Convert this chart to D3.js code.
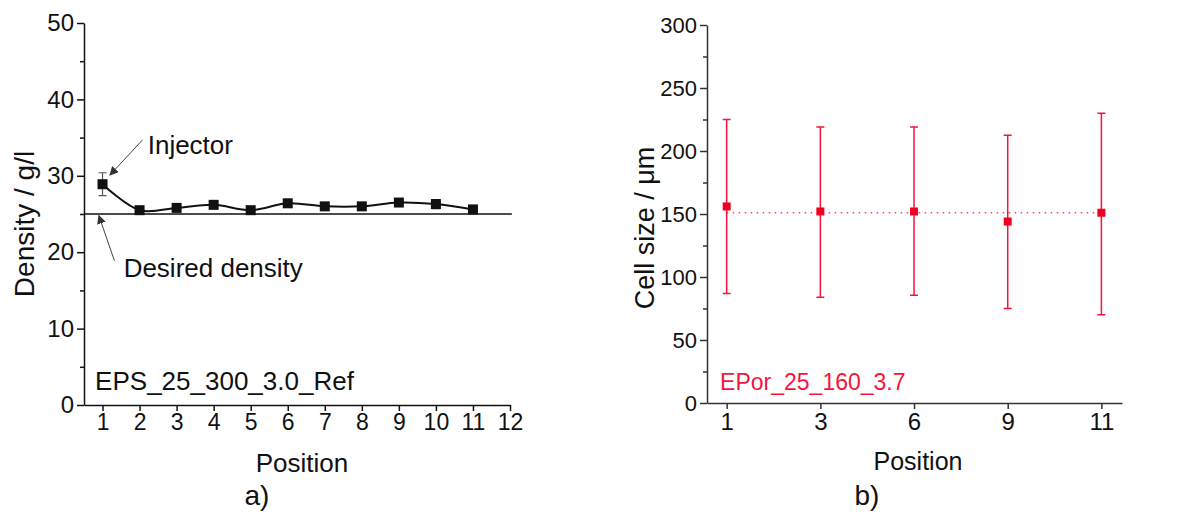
<!DOCTYPE html>
<html>
    <head>
        <title>Density and cell size</title>
        <script src="https://d3js.org/d3.v7.min.js"></script>
    </head>
    <body style="margin:0;background:#fff;">

        <style type="text/css">
            text {
                font-family: "Liberation Sans", Arial, sans-serif;
            }
            .axisL path, .axisL line {
                stroke: #111;
                stroke-width: 1.5;
            }
            .axisR path, .axisR line {
                stroke: #333;
                stroke-width: 1.5;
            }
            .tick text {
                fill: #111;
            }
        </style>

        <script>
            // panel a) - density along positions
            var densPositions = [1, 2, 3, 4, 5, 6, 7, 8, 9, 10, 11];
            var densValues = [28.9, 25.5, 25.8, 26.2, 25.5, 26.4, 26.0, 26.0, 26.5, 26.3, 25.6];
            var densErrors = [1.5, 0.3, 0.4, 0.5, 0.3, 0.4, 0.4, 0.4, 0.5, 0.6, 0.5];
            var densTicksX = [1, 2, 3, 4, 5, 6, 7, 8, 9, 10, 11, 12];
            var densTicksY = [0, 10, 20, 30, 40, 50];
            var desiredDensity = 25;

            // panel b) - cell size at selected positions
            var cellPositions = ["1", "3", "6", "9", "11"];
            var cellValues = [156, 152, 152, 144, 151];
            var cellLow = [87, 84, 85.5, 75, 70];
            var cellHigh = [225, 219, 219, 212.5, 230];
            var cellTicksY = [0, 50, 100, 150, 200, 250, 300];

            var svgWidth = 1188, svgHeight = 515;
            var red = "#f5153c";

            var svg = d3.select("body").append("svg")
                            .attr("width", svgWidth)
                            .attr("height", svgHeight);

            // ---------- panel a ----------
            var xL = d3.scaleLinear().domain([0.5, 12]).range([84, 510]);
            var yL = d3.scaleLinear().domain([0, 50]).range([405, 23]);

            var gL = svg.append("g");

            // minor ticks y
            gL.append("g")
                .attr("class", "axisL")
                .attr("transform", "translate(84,0)")
                .call(d3.axisLeft(yL).tickValues([5, 15, 25, 35, 45]).tickSize(4).tickFormat(""))
                .select(".domain").remove();

            gL.append("g")
                .attr("class", "axisL")
                .attr("transform", "translate(84,0)")
                .call(d3.axisLeft(yL).tickValues(densTicksY).tickSize(7).tickSizeOuter(0).tickPadding(3))
                .selectAll("text").style("font-size", "24px");

            gL.append("g")
                .attr("class", "axisL")
                .attr("transform", "translate(0,405)")
                .call(d3.axisBottom(xL).tickValues(densTicksX).tickSize(6).tickSizeOuter(0).tickPadding(3))
                .selectAll("text").style("font-size", "23px");

            // desired density line
            gL.append("line")
                .attr("x1", xL(0.5)).attr("x2", xL(12.05))
                .attr("y1", yL(desiredDensity)).attr("y2", yL(desiredDensity))
                .attr("stroke", "#111").attr("stroke-width", 1.5);

            var line = d3.line()
                            .x( (d, i) => xL(densPositions[i]) )
                            .y( d => yL(d) )
                            .curve(d3.curveCatmullRom.alpha(0.5));

            gL.append("path")
                .datum(densValues)
                .attr("fill", "none")
                .attr("stroke", "#111")
                .attr("stroke-width", 2)
                .attr("d", line);

            gL.selectAll(".errL")
                .data(densValues).enter().append("path")
                .attr("class", "errL")
                .attr("fill", "none")
                .attr("stroke", "#555")
                .attr("stroke-width", 1.2)
                .attr("d", function (d, i) {
                    var x = xL(densPositions[i]), t = yL(d + densErrors[i]), b = yL(d - densErrors[i]);
                    return "M" + (x - 4) + "," + t + "H" + (x + 4) + "M" + x + "," + t + "V" + b +
                           "M" + (x - 4) + "," + b + "H" + (x + 4);
                });

            gL.selectAll(".dotL")
                .data(densValues).enter().append("rect")
                .attr("class", "dotL")
                .attr("x", (d, i) => xL(densPositions[i]) - 5)
                .attr("y", d => yL(d) - 5)
                .attr("width", 10).attr("height", 10)
                .attr("fill", "#111");

            // arrows
            svg.append("defs").append("marker")
                .attr("id", "arrow")
                .attr("viewBox", "0 0 10 10")
                .attr("refX", 9).attr("refY", 5)
                .attr("markerWidth", 9).attr("markerHeight", 9)
                .attr("markerUnits", "userSpaceOnUse")
                .attr("orient", "auto")
                .append("path").attr("d", "M0,0L10,5L0,10z").attr("fill", "#333");

            gL.append("line")
                .attr("x1", xL(2.08)).attr("y1", yL(34.7))
                .attr("x2", xL(1.2)).attr("y2", yL(30.1))
                .attr("stroke", "#444").attr("stroke-width", 1)
                .attr("marker-end", "url(#arrow)");

            gL.append("line")
                .attr("x1", xL(1.32)).attr("y1", yL(18.9))
                .attr("x2", xL(0.9)).attr("y2", yL(24.8))
                .attr("stroke", "#444").attr("stroke-width", 1)
                .attr("marker-end", "url(#arrow)");

            gL.append("text")
                .attr("x", xL(2.22)).attr("y", yL(32.85))
                .style("font-size", "26px").attr("fill", "#111")
                .text("Injector");

            gL.append("text")
                .attr("x", xL(1.57)).attr("y", yL(16.8))
                .style("font-size", "26px").attr("fill", "#111")
                .text("Desired density");

            gL.append("text")
                .attr("x", xL(0.8)).attr("y", yL(2))
                .style("font-size", "26px").attr("fill", "#111")
                .text("EPS_25_300_3.0_Ref");

            gL.append("text")
                .attr("x", 302).attr("y", 472)
                .attr("text-anchor", "middle")
                .style("font-size", "26px").attr("fill", "#111")
                .text("Position");

            gL.append("text")
                .attr("transform", "translate(34,224) rotate(-90)")
                .attr("text-anchor", "middle")
                .style("font-size", "28px").attr("fill", "#111")
                .text("Density / g/l");

            gL.append("text")
                .attr("x", 257).attr("y", 505)
                .attr("text-anchor", "middle")
                .style("font-size", "28px").attr("fill", "#111")
                .text("a)");

            // ---------- panel b ----------
            var xR = d3.scaleLinear().domain([-0.21, 4.22]).range([707, 1122]);
            var yR = d3.scaleLinear().domain([0, 300]).range([403, 25]);

            var gR = svg.append("g");

            gR.append("g")
                .attr("class", "axisR")
                .attr("transform", "translate(707,0)")
                .call(d3.axisLeft(yR).tickValues([25, 75, 125, 175, 225, 275]).tickSize(4).tickFormat(""))
                .select(".domain").remove();

            gR.append("g")
                .attr("class", "axisR")
                .attr("transform", "translate(707,0)")
                .call(d3.axisLeft(yR).tickValues(cellTicksY).tickSize(7).tickSizeOuter(0).tickPadding(3))
                .selectAll("text").style("font-size", "22px");

            gR.append("g")
                .attr("class", "axisR")
                .attr("transform", "translate(0,403)")
                .call(d3.axisBottom(xR).tickValues(d3.range(cellPositions.length))
                        .tickFormat(i => cellPositions[i]).tickSize(6).tickSizeOuter(0).tickPadding(4))
                .selectAll("text").style("font-size", "24px");

            var meanCell = d3.mean(cellValues);
            gR.append("line")
                .attr("x1", xR(0)).attr("x2", xR(cellPositions.length - 1))
                .attr("y1", yR(meanCell)).attr("y2", yR(meanCell))
                .attr("stroke", red).attr("stroke-width", 1.5)
                .attr("stroke-dasharray", "1.5,4.5")
                .attr("opacity", 0.8);

            gR.selectAll(".errR")
                .data(cellValues).enter().append("path")
                .attr("class", "errR")
                .attr("fill", "none")
                .attr("stroke", red)
                .attr("stroke-width", 1.5)
                .attr("d", function (d, i) {
                    var x = xR(i), t = yR(cellHigh[i]), b = yR(cellLow[i]);
                    return "M" + (x - 4) + "," + t + "H" + (x + 4) + "M" + x + "," + t + "V" + b +
                           "M" + (x - 4) + "," + b + "H" + (x + 4);
                });

            gR.selectAll(".dotR")
                .data(cellValues).enter().append("rect")
                .attr("class", "dotR")
                .attr("x", (d, i) => xR(i) - 4)
                .attr("y", d => yR(d) - 4)
                .attr("width", 8).attr("height", 8)
                .attr("fill", "#f00020");

            gR.append("text")
                .attr("x", xR(-0.07)).attr("y", yR(10.3))
                .style("font-size", "23px").attr("fill", red)
                .text("EPor_25_160_3.7");

            gR.append("text")
                .attr("x", 918).attr("y", 470)
                .attr("text-anchor", "middle")
                .style("font-size", "25px").attr("fill", "#111")
                .text("Position");

            gR.append("text")
                .attr("transform", "translate(654,228) rotate(-90)")
                .attr("text-anchor", "middle")
                .style("font-size", "27px").attr("fill", "#111")
                .text("Cell size / \u03bcm");

            gR.append("text")
                .attr("x", 867).attr("y", 505)
                .attr("text-anchor", "middle")
                .style("font-size", "28px").attr("fill", "#111")
                .text("b)");
        </script>
    </body>
</html>
